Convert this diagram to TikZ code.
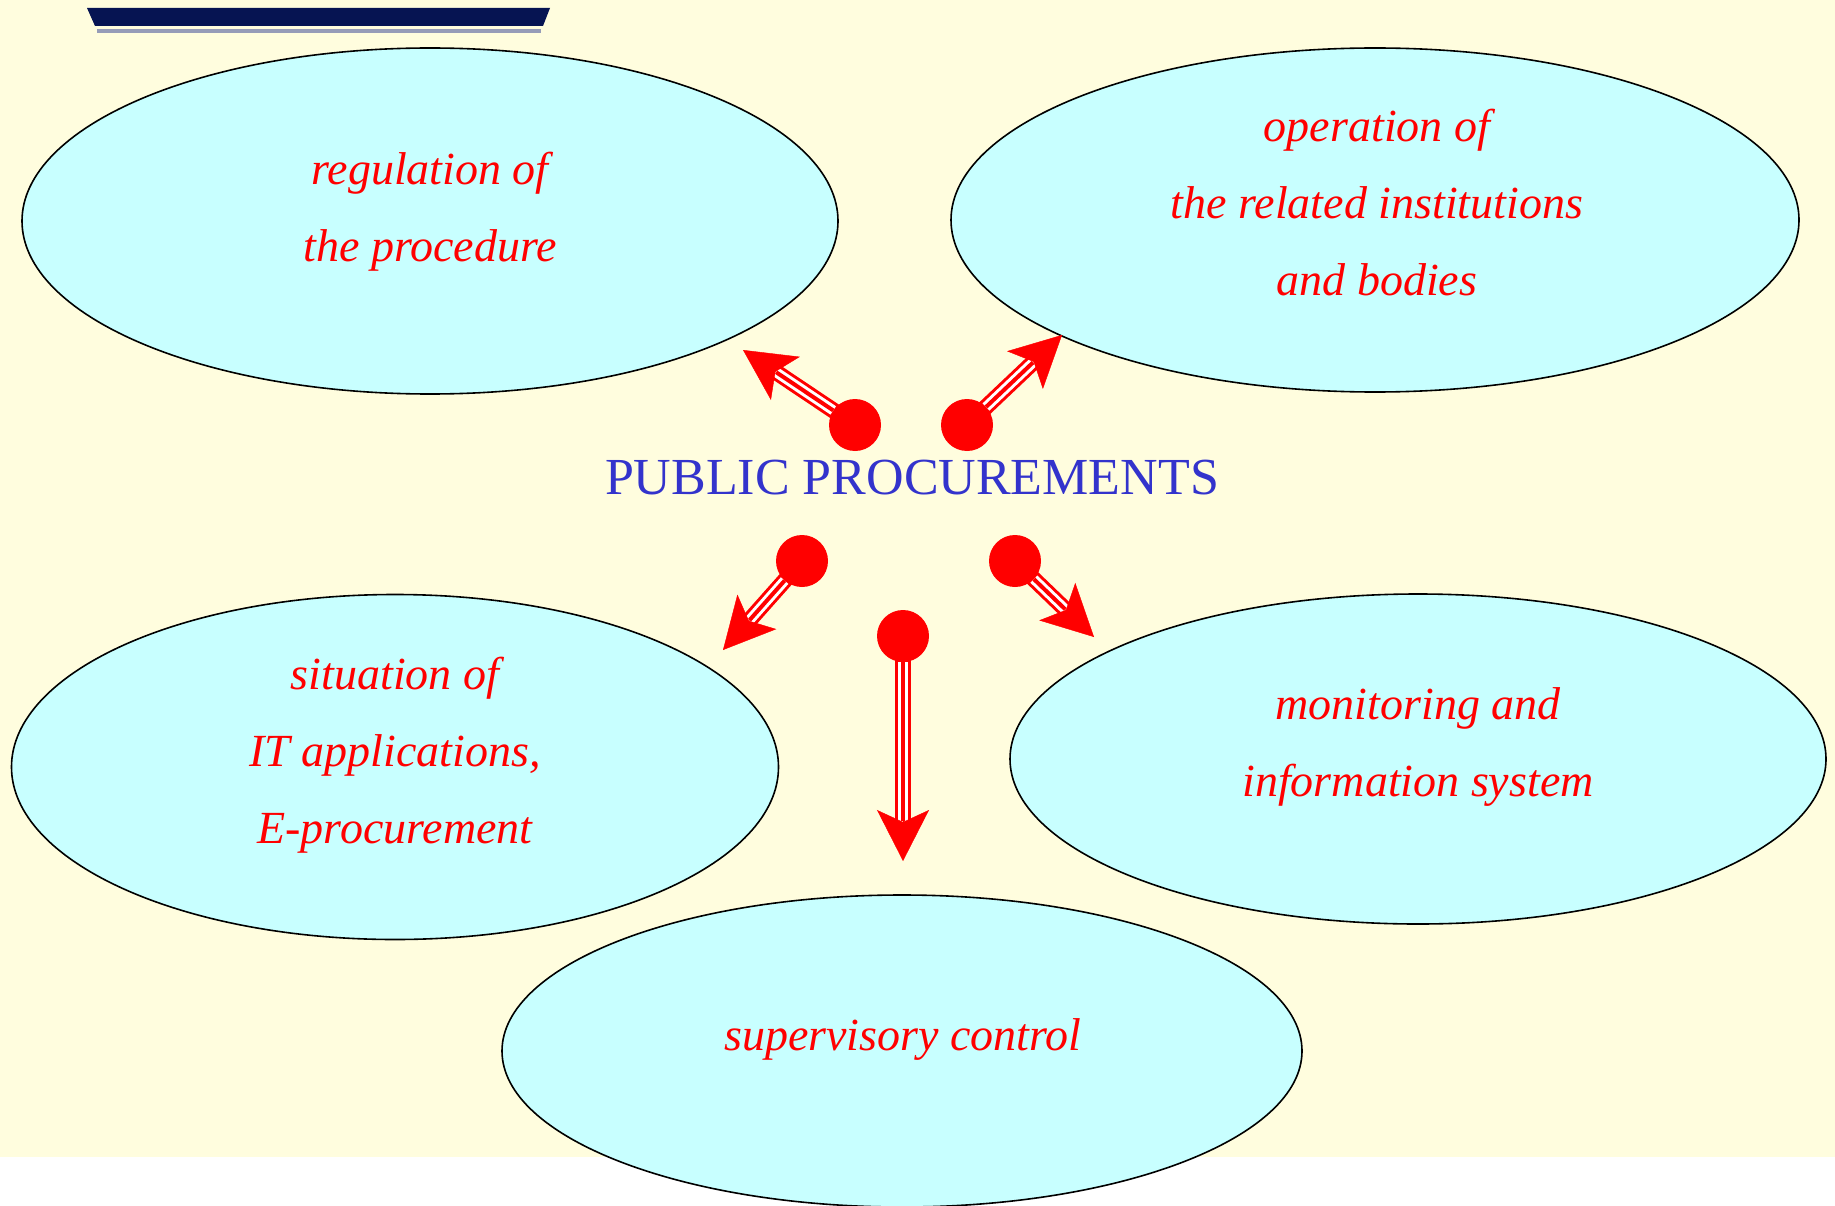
\documentclass[tikz,border=0pt]{standalone}
\usepackage{fontspec}
\setmainfont{Liberation Serif}
\usetikzlibrary{shapes.geometric,arrows.meta,positioning}
\definecolor{paper}{RGB}{255,253,222}
\definecolor{blobfill}{RGB}{200,255,255}
\definecolor{titleblue}{RGB}{51,51,204}
\definecolor{barnavy}{RGB}{6,20,82}
\definecolor{bargray}{RGB}{150,156,184}
\tikzset{
	blob/.style={ellipse,draw=black,fill=blobfill,line width=1.6pt,inner sep=0pt},
	blob text/.style={text=red,align=center,font=\itshape\fontsize{46}{77}\selectfont},
	title/.style={text=titleblue,font=\fontsize{52}{60}\selectfont},
	dot/.style={circle,fill=red,minimum size=52pt,inner sep=0pt},
	pipe/.style={line width=#1,shorten >=40pt},
	pipe tip/.style={-{Stealth[length=51pt,width=52pt,inset=12pt]},line width=0.4pt,red}
}

\begin{document}
\begin{tikzpicture}[x=1pt,y=-1pt]
      \useasboundingbox (0,0) rectangle (1835,1206);
      \fill[paper] (0,0) rectangle (1835,1157);
      % bar top left
      \fill[barnavy] (87,8) -- (550,8) -- (543,26) -- (95,26) -- cycle;
      \fill[bargray] (97,29) rectangle (541,33);
      % the five fields
      \node [blob, minimum width=816pt, minimum height=346pt] (reg) at (430,221) {};
      \node [blob, minimum width=848pt, minimum height=344pt] (oper) at (1375,220) {};
      \node [blob, minimum width=767pt, minimum height=345pt] (situ) at (395,767) {};
      \node [blob, minimum width=816pt, minimum height=330pt] (moni) at (1418,759) {};
      \node [blob, minimum width=800pt, minimum height=312pt] (supe) at (902,1051) {};
      \node [blob text] (regT) at (430,212) {regulation of\\the procedure};
      \node [blob text] (operT) at (1377,203) {operation of\\the related institutions\\and bodies};
      \node [blob text] (situT) at (395,755) {situation of\\IT applications,\\E-procurement};
      \node [blob text] (moniT) at (1418,747) {monitoring and\\information system};
      \node [blob text] (supeT) at (903,1039) {supervisory control};
      \node [title] (pp) at (912,478) {PUBLIC PROCUREMENTS};
      % dots and arrow ends
      \node [dot] (dReg) at (855,425) {};
      \node [dot] (dOper) at (967,425) {};
      \node [dot] (dSitu) at (802,561) {};
      \node [dot] (dSupe) at (903,636) {};
      \node [dot] (dMoni) at (1015,561) {};
      \coordinate (tReg) at (743,350);
      \coordinate (tOper) at (1062,335);
      \coordinate (tSitu) at (723,650);
      \coordinate (tSupe) at (903,861);
      \coordinate (tMoni) at (1094,637);
      \foreach \from/\to in {dReg/tReg,dOper/tOper,dSitu/tSitu,dSupe/tSupe,dMoni/tMoni} {
        \draw [red, pipe=16pt, shorten <=-4pt] (\from) -- (\to);
        \draw [white, pipe=10pt] (\from) -- (\to);
        \draw [red, pipe=4pt] (\from) -- (\to);
        \draw [pipe tip] (\from) -- (\to);
      }
   \end{tikzpicture}
\end{document}
